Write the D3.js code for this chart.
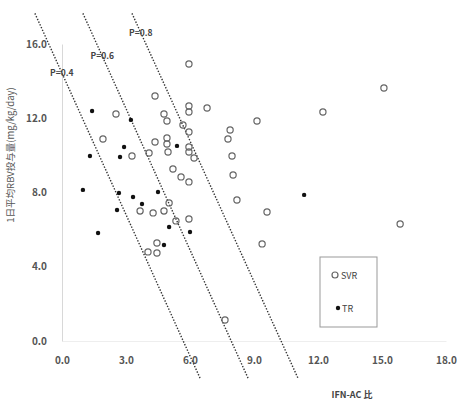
<!DOCTYPE html>
<html>
<head>
<meta charset="utf-8">
<script src="https://cdn.jsdelivr.net/npm/d3@7"></script>
<style>
  body { margin: 0; background: #fff; }
  text { font-family: "Noto Sans CJK JP", "DejaVu Sans", sans-serif; }
</style>
</head>
<body>
<script>
var width = 457;
var height = 402;

// SVR (open circles)
var svrX = [5.95, 4.36, 5.95, 5.95, 6.80, 2.53, 4.78, 4.92, 5.67, 5.95, 9.14, 12.23, 15.09, 7.88, 7.78,
    1.92, 4.36, 4.92, 4.92, 4.97, 5.95, 5.95, 6.19, 3.28, 4.08, 7.97, 8.02, 5.20, 5.58, 5.95,
    8.20, 9.61, 9.38, 15.85, 7.64, 5.02, 3.66, 4.27, 4.78, 5.34, 5.95, 4.45, 4.03, 4.45];
var svrY = [14.92, 13.20, 12.66, 12.34, 12.55, 12.23, 12.23, 11.85, 11.64, 11.26, 11.85, 12.34, 13.63, 11.37, 10.88,
    10.88, 10.72, 10.94, 10.61, 10.18, 10.45, 10.18, 9.86, 9.97, 10.13, 9.97, 8.94, 9.27, 8.84, 8.57,
    7.60, 6.95, 5.23, 6.30, 1.13, 7.44, 7.00, 6.90, 7.00, 6.47, 6.57, 5.28, 4.80, 4.74];

// TR (filled dots)
var trX = [1.41, 3.23, 2.91, 5.39, 1.31, 2.72, 0.98, 2.67, 3.33, 4.50, 3.75, 2.58, 5.02, 6.00, 1.69, 4.78, 11.35];
var trY = [12.39, 11.91, 10.45, 10.51, 9.97, 9.91, 8.14, 7.97, 7.76, 8.03, 7.38, 7.06, 6.14, 5.87, 5.82, 5.17, 7.87];

// reference lines: x at top (y = 17.65) and x at bottom (y = -2.0)
var lineLabels = ["P=0.4", "P=0.6", "P=0.8"];
var lineTopX = [-1.27, 0.98, 3.28];
var lineBottomX = [6.47, 8.72, 11.06];
var lineTopY = 17.65;
var lineBottomY = -2.0;

var xTicks = [0, 3, 6, 9, 12, 15, 18];
var yTicks = [0, 4, 8, 12, 16];

var svg = d3.select("body")
    .append("svg")
    .attr("width", width)
    .attr("height", height)

var xScale = d3.scaleLinear().domain([0, 18]).range([62, 446]);
var yScale = d3.scaleLinear().domain([0, 16]).range([341, 44]);

var xAxis = d3.axisBottom(xScale).tickValues(xTicks).tickSize(0).tickPadding(16).tickFormat(d3.format(".1f"));
var yAxis = d3.axisLeft(yScale).tickValues(yTicks).tickSize(0).tickPadding(15).tickFormat(d3.format(".1f"));

var gx = svg.append("g")
    .attr("transform", "translate(0," + yScale(0) + ")")
    .call(xAxis)
gx.select(".domain").attr("stroke", "#eeeeee")

var gy = svg.append("g")
    .attr("transform", "translate(" + xScale(0) + ",0)")
    .call(yAxis)
gy.select(".domain").attr("stroke", "#d8d8d8")

svg.selectAll(".tick text")
    .attr("fill", "#555")
    .attr("font-size", 10)
    .attr("font-weight", "bold")

// dotted reference lines
svg.selectAll(".pline")
    .data(lineLabels)
    .enter()
    .append("line")
    .attr("class", "pline")
    .attr("x1", function (d, i) { return xScale(lineTopX[i]) })
    .attr("y1", yScale(lineTopY))
    .attr("x2", function (d, i) { return xScale(lineBottomX[i]) })
    .attr("y2", yScale(lineBottomY))
    .attr("stroke", "#333")
    .attr("stroke-width", 1.4)
    .attr("stroke-dasharray", "1.4,1.6")

// line labels sit on the upper part of each line
var labelY = [14.45, 15.35, 16.6];
svg.selectAll(".plabel")
    .data(lineLabels)
    .enter()
    .append("text")
    .attr("class", "plabel")
    .attr("x", function (d, i) {
        var t = (lineTopY - labelY[i]) / (lineTopY - lineBottomY);
        return xScale(lineTopX[i] + t * (lineBottomX[i] - lineTopX[i]))
    })
    .attr("y", function (d, i) { return yScale(labelY[i]) + 3 })
    .attr("text-anchor", "middle")
    .attr("font-size", 8.5)
    .attr("font-weight", "bold")
    .attr("fill", "#444")
    .text(function (d) { return d })

svg.selectAll(".svr")
    .data(svrX)
    .enter()
    .append("circle")
    .attr("class", "svr")
    .attr("cx", function (d) { return xScale(d) })
    .attr("cy", function (d, i) { return yScale(svrY[i]) })
    .attr("r", 3.1)
    .attr("fill", "none")
    .attr("stroke", "#666")
    .attr("stroke-width", 1.2)

svg.selectAll(".tr")
    .data(trX)
    .enter()
    .append("circle")
    .attr("class", "tr")
    .attr("cx", function (d) { return xScale(d) })
    .attr("cy", function (d, i) { return yScale(trY[i]) })
    .attr("r", 2.2)
    .attr("fill", "#111")

// axis titles
svg.append("text")
    .attr("transform", "translate(14,155) rotate(-90)")
    .attr("text-anchor", "middle")
    .attr("font-size", 9.5)
    .attr("fill", "#555")
    .text("1日平均RBV投与量(mg/kg/day)")

svg.append("text")
    .attr("x", 352)
    .attr("y", 398)
    .attr("text-anchor", "middle")
    .attr("font-size", 9)
    .attr("font-weight", "bold")
    .attr("fill", "#444")
    .text("IFN-AC 比")

// legend
var legend = svg.append("g").attr("transform", "translate(320,257)")
legend.append("rect")
    .attr("width", 57)
    .attr("height", 70)
    .attr("fill", "#fff")
    .attr("stroke", "#999")
legend.append("circle")
    .attr("cx", 15).attr("cy", 18).attr("r", 3)
    .attr("fill", "none").attr("stroke", "#666").attr("stroke-width", 1.2)
legend.append("text")
    .attr("x", 21).attr("y", 21.5)
    .attr("font-size", 9).attr("fill", "#444")
    .text("SVR")
legend.append("circle")
    .attr("cx", 18).attr("cy", 51).attr("r", 2.2)
    .attr("fill", "#111")
legend.append("text")
    .attr("x", 22).attr("y", 54.5)
    .attr("font-size", 9).attr("fill", "#444")
    .text("TR")
</script>
</body>
</html>
